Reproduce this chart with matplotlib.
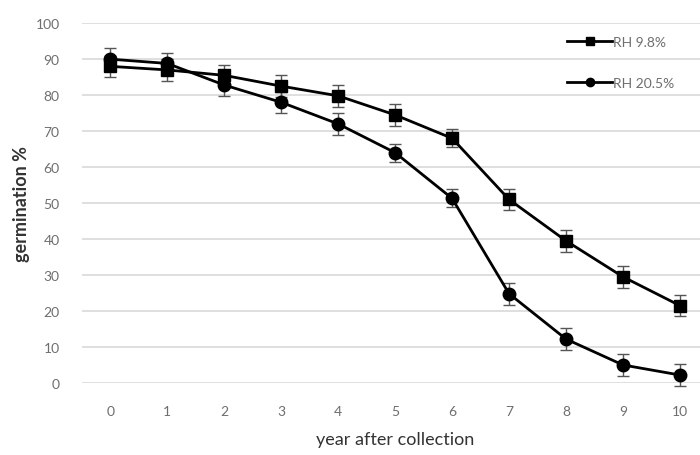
import matplotlib
matplotlib.use("Agg")
import matplotlib.pyplot as plt
from matplotlib.lines import Line2D

plt.rcParams['font.family'] = ['Lato', 'DejaVu Sans']

years = [0, 1, 2, 3, 4, 5, 6, 7, 8, 9, 10]
rh98 = [88, 87, 85.5, 82.5, 79.8, 74.5, 68, 51, 39.5, 29.5, 21.5]
rh98_err = [3, 3, 3, 3, 3, 3, 2.5, 3, 3, 3, 3]
rh205 = [90, 88.8, 82.8, 78, 72, 64, 51.3, 24.8, 12.2, 5, 2.2]
rh205_err = [3, 3, 3, 3, 3, 2.5, 2.5, 3, 3, 3, 3]
yticks = [0, 10, 20, 30, 40, 50, 60, 70, 80, 90, 100]

fig = plt.figure(figsize=(7, 4.56), dpi=100)
ax = fig.add_axes([0.117, 0.158, 0.895, 0.789])

ax.errorbar(years, rh98, yerr=rh98_err, color='black', marker='s', ms=8, lw=2,
            ecolor='#555555', elinewidth=1, capsize=4, capthick=1, clip_on=False)
ax.errorbar(years, rh205, yerr=rh205_err, color='black', marker='o', ms=9, lw=2,
            ecolor='#555555', elinewidth=1, capsize=4, capthick=1, clip_on=False)

ax.set_xlim(-0.5, 10.5)
ax.set_ylim(0, 100)
ax.set_yticks(yticks)
ax.set_xticks(years)
ax.grid(axis='y', color='#d9d9d9', lw=1.2)
ax.set_axisbelow(True)
for s in ax.spines.values():
    s.set_visible(False)
ax.tick_params(length=0, labelsize=10, colors='#6e6e6e')
ax.tick_params(axis='y', pad=16)
ax.tick_params(axis='x', pad=16)

ax.set_xlabel('year after collection', fontsize=13, color='#333333', labelpad=10)
ax.set_ylabel('germination %', fontsize=13, color='#333333', fontweight='bold', labelpad=4)

handles = [Line2D([], [], color='black', lw=2, marker='s', ms=6),
           Line2D([], [], color='black', lw=2, marker='o', ms=6)]
ax.legend(handles, ['RH 9.8%', 'RH 20.5%'], loc='upper left', bbox_to_anchor=(0.755, 1.0),
          frameon=False, fontsize=10, labelcolor='#6e6e6e', handlelength=3.2,
          labelspacing=2.1, handletextpad=0.1)

fig.savefig('out.png')
